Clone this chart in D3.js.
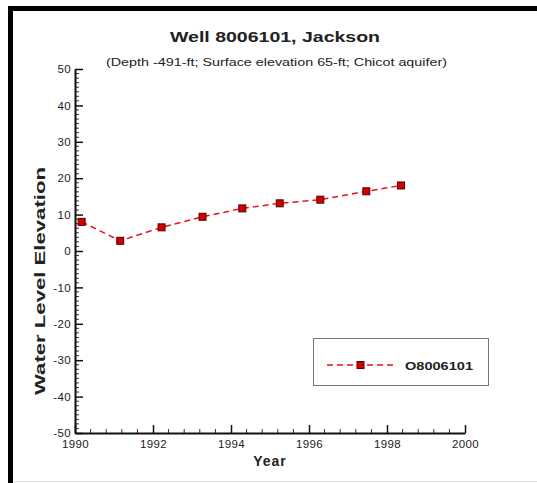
<!DOCTYPE html>
<html><head><meta charset="utf-8">
<script src="https://cdn.jsdelivr.net/npm/d3@7"></script>
<style>body{margin:0;background:#fff}svg{display:block;font-family:"Liberation Sans",Arial,sans-serif}</style>
</head><body>
<script>
const years = [1990.17, 1991.16, 1992.22, 1993.27, 1994.29, 1995.25, 1996.29, 1997.47, 1998.36];
const levels = [8.0, 2.8, 6.5, 9.4, 11.7, 13.1, 14.1, 16.4, 18.0];
const xTicks = [1990, 1992, 1994, 1996, 1998, 2000];
const yTicks = [50, 40, 30, 20, 10, 0, -10, -20, -30, -40, -50];
const seriesName = "O8006101";
const title = "Well 8006101, Jackson";
const subtitle = "(Depth -491-ft; Surface elevation 65-ft; Chicot aquifer)";

const W = 537, H = 483;
const svg = d3.select("body").append("svg").attr("width", W).attr("height", H);

// frame
svg.append("rect").attr("x", 8).attr("y", 6).attr("width", W - 8).attr("height", 5).attr("fill", "#000");
svg.append("rect").attr("x", 8).attr("y", 6).attr("width", 5).attr("height", H - 6).attr("fill", "#000");
svg.append("line").attr("x1", 13).attr("x2", W).attr("y1", 481.5).attr("y2", 481.5).attr("stroke", "#e4e4e4");

const x = d3.scaleLinear().domain([1990, 2000]).range([75, 465]);
const y = d3.scaleLinear().domain([-50, 50]).range([433, 69]);

// title
svg.append("text").attr("x", 170).attr("y", 42)
  .attr("font-size", 15).attr("font-weight", "bold").attr("textLength", 210).attr("lengthAdjust", "spacingAndGlyphs")
  .attr("fill", "#222").text(title);
svg.append("text").attr("x", 106).attr("y", 66)
  .attr("font-size", 11).attr("textLength", 341).attr("lengthAdjust", "spacingAndGlyphs")
  .attr("fill", "#222").text(subtitle);

// minor ticks
const xMinor = d3.range(1990, 2000.001, 0.4).filter(v => Math.abs(v / 2 - Math.round(v / 2)) > 0.01);
const yMinor = d3.range(-50, 50.001, 1.25).filter(v => Math.abs(v / 10 - Math.round(v / 10)) > 0.01);

const g = svg.append("g");
g.selectAll(".xm").data(xMinor).join("line")
  .attr("x1", d => x(d)).attr("x2", d => x(d)).attr("y1", y(-50)).attr("y2", y(-50) - 4)
  .attr("stroke", "#333").attr("stroke-width", 1);
g.selectAll(".ym").data(yMinor).join("line")
  .attr("y1", d => y(d)).attr("y2", d => y(d)).attr("x1", x(1990)).attr("x2", x(1990) + 4)
  .attr("stroke", "#333").attr("stroke-width", 1);

// axes
const xAxis = d3.axisBottom(x).tickValues(xTicks).tickFormat(d => String(d)).tickSizeInner(-8).tickSizeOuter(0).tickPadding(7);
const yAxis = d3.axisLeft(y).tickValues(yTicks).tickFormat(d => String(d)).tickSizeInner(-8).tickSizeOuter(0).tickPadding(4);
const gx = svg.append("g").attr("transform", `translate(0,${y(-50)})`).call(xAxis);
const gy = svg.append("g").attr("transform", `translate(${x(1990)},0)`).call(yAxis);
[gx, gy].forEach(a => {
  a.select(".domain").attr("stroke", "#111").attr("stroke-width", 2);
  a.selectAll(".tick line").attr("stroke", "#111").attr("stroke-width", 1.5);
  a.selectAll(".tick text").attr("font-size", 11.5).attr("fill", "#222").attr("letter-spacing", 0.4)
    .attr("font-family", "Liberation Sans, Arial, sans-serif");
});
gy.selectAll(".tick text").attr("dy", "0.32em");
gx.selectAll(".tick text").attr("dy", "0.71em");

// axis titles
svg.append("text").attr("x", 270).attr("y", 466).attr("text-anchor", "middle")
  .attr("font-size", 14).attr("font-weight", "bold").attr("letter-spacing", 1).attr("fill", "#222").text("Year");
svg.append("text").attr("transform", "translate(45,395) rotate(-90)")
  .attr("font-size", 14).attr("font-weight", "bold").attr("textLength", 228).attr("lengthAdjust", "spacingAndGlyphs")
  .attr("fill", "#222").text("Water Level Elevation");

// series
const pts = years.map((yr, i) => [yr, levels[i]]);
svg.append("path").datum(pts)
  .attr("d", d3.line().x(d => x(d[0])).y(d => y(d[1])))
  .attr("fill", "none").attr("stroke", "#e8141c").attr("stroke-width", 1.5).attr("stroke-dasharray", "6,4");
svg.selectAll(".pt").data(pts).join("rect")
  .attr("x", d => x(d[0]) - 3.5).attr("y", d => y(d[1]) - 3.5).attr("width", 7).attr("height", 7)
  .attr("fill", "#d00000").attr("stroke", "#5a0000").attr("stroke-width", 1);

// legend
svg.append("rect").attr("x", 313.5).attr("y", 338.5).attr("width", 175).attr("height", 47)
  .attr("fill", "#fff").attr("stroke", "#777").attr("stroke-width", 1);
svg.append("line").attr("x1", 327).attr("x2", 393).attr("y1", 365).attr("y2", 365)
  .attr("stroke", "#e8141c").attr("stroke-width", 1.5).attr("stroke-dasharray", "6,4");
svg.append("rect").attr("x", 357).attr("y", 361.5).attr("width", 7).attr("height", 7)
  .attr("fill", "#d00000").attr("stroke", "#5a0000").attr("stroke-width", 1);
svg.append("text").attr("x", 405).attr("y", 369.5).attr("font-size", 11.5).attr("font-weight", "bold")
  .attr("textLength", 68).attr("lengthAdjust", "spacingAndGlyphs").attr("fill", "#222").text(seriesName);
</script>
</body></html>
